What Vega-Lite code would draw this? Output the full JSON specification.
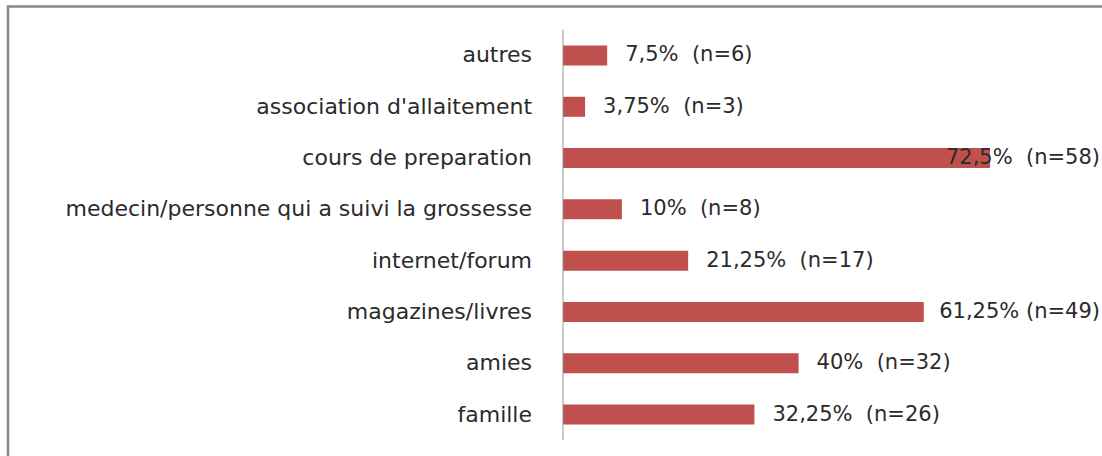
{
  "$schema": "https://vega.github.io/schema/vega-lite/v6.json",
  "autosize": {"type": "none"},
  "padding": {"left": 8, "top": 6.5, "right": 0, "bottom": 0},
  "width": 1100,
  "height": 457,
  "background": "white",
  "config": {"view": {"stroke": "#878787", "strokeWidth": 2.5}},
  "data": {
    "values": [
      {"cat": "autres", "pct": 7.5, "label": "7,5%\u00a0\u00a0(n=6)"},
      {"cat": "association d'allaitement", "pct": 3.75, "label": "3,75%\u00a0\u00a0(n=3)"},
      {"cat": "cours de preparation", "pct": 72.5, "label": "72,5%\u00a0\u00a0(n=58)"},
      {"cat": "medecin/personne qui a suivi la grossesse", "pct": 10, "label": "10%\u00a0\u00a0(n=8)"},
      {"cat": "internet/forum", "pct": 21.25, "label": "21,25%\u00a0\u00a0(n=17)"},
      {"cat": "magazines/livres", "pct": 61.25, "label": "61,25%\u00a0(n=49)"},
      {"cat": "amies", "pct": 40, "label": "40%\u00a0\u00a0(n=32)"},
      {"cat": "famille", "pct": 32.5, "label": "32,25%\u00a0\u00a0(n=26)"}
    ]
  },
  "encoding": {
    "y": {
      "field": "cat",
      "type": "nominal",
      "sort": null,
      "axis": null,
      "scale": {"paddingInner": 0.61, "paddingOuter": 0.76}
    }
  },
  "layer": [
    {
      "mark": {"type": "bar", "color": "#C0504D"},
      "encoding": {
        "x": {"field": "pct", "type": "quantitative", "axis": null, "scale": {"domain": [-94.23, 92.53], "nice": false, "zero": false}},
        "x2": {"datum": 0}
      }
    },
    {
      "mark": {"type": "tick", "size": 51.4, "thickness": 1.3, "color": "#8c8c8c"},
      "encoding": {
        "x": {"datum": 0, "type": "quantitative"}
      }
    },
    {
      "mark": {"type": "text", "align": "right", "baseline": "middle", "dx": -31, "font": "DejaVu Sans", "fontSize": 22, "color": "#2b2b2b"},
      "encoding": {
        "x": {"datum": 0, "type": "quantitative"},
        "text": {"field": "cat"}
      }
    },
    {
      "transform": [{"filter": "datum.pct < 60"}],
      "mark": {"type": "text", "align": "left", "baseline": "middle", "dx": 18, "font": "DejaVu Sans", "fontSize": 21, "color": "#2b2b2b"},
      "encoding": {
        "x": {"field": "pct", "type": "quantitative"},
        "text": {"field": "label"}
      }
    },
    {
      "transform": [{"filter": "datum.pct >= 60"}],
      "mark": {"type": "text", "align": "right", "baseline": "middle", "font": "DejaVu Sans", "fontSize": 21, "color": "#2b2b2b"},
      "encoding": {
        "x": {"datum": 91.17, "type": "quantitative"},
        "text": {"field": "label"}
      }
    }
  ]
}
